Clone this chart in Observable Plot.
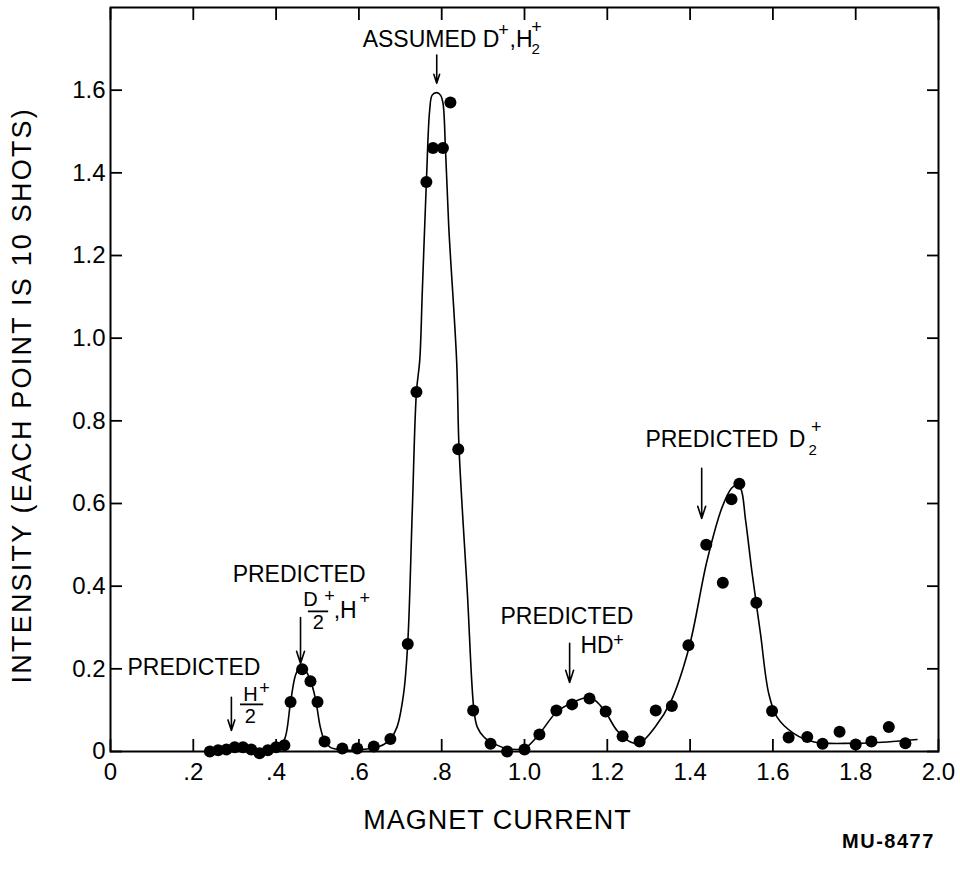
<!DOCTYPE html>
<html>
<head>
<meta charset="utf-8">
<script src="https://cdn.jsdelivr.net/npm/d3@7"></script>
<script src="https://cdn.jsdelivr.net/npm/@observablehq/plot@0.6"></script>
<style>
  html, body { margin: 0; padding: 0; background: #fff; }
  svg text { font-family: "Liberation Sans", Arial, sans-serif; }
</style>
</head>
<body>
<div id="chart"></div>
<script>
// Measured points (magnet current, intensity)
const pointX = [0.24,0.26,0.28,0.30,0.32,0.34,0.36,0.38,0.40,0.42,
  0.435,0.463,0.483,0.50,0.517,0.56,0.596,0.636,0.676,0.718,
  0.739,0.763,0.779,0.803,0.821,0.84,0.876,0.918,0.958,1.0,
  1.036,1.077,1.115,1.157,1.196,1.237,1.278,1.317,1.356,1.396,
  1.439,1.479,1.50,1.519,1.56,1.598,1.638,1.683,1.72,1.761,
  1.80,1.838,1.88,1.92];
const pointY = [0.0,0.003,0.005,0.01,0.01,0.005,-0.004,0.003,0.01,0.015,
  0.12,0.199,0.17,0.12,0.024,0.007,0.007,0.012,0.03,0.26,
  0.87,1.378,1.46,1.46,1.57,0.731,0.099,0.019,0.0,0.005,
  0.041,0.099,0.114,0.128,0.097,0.037,0.024,0.099,0.11,0.257,
  0.50,0.408,0.61,0.648,0.36,0.098,0.034,0.035,0.019,0.048,
  0.017,0.024,0.059,0.02];

// Hand-drawn smooth curve
const curveX = [0.23,0.27,0.31,0.35,0.38,0.405,0.42,0.435,0.447,0.459,
  0.47,0.482,0.495,0.507,0.517,0.531,0.56,0.60,0.636,0.66,
  0.676,0.692,0.708,0.718,0.729,0.739,0.747,0.753,0.763,0.771,
  0.777,0.788,0.797,0.803,0.809,0.817,0.836,0.842,0.862,0.878,
  0.886,0.902,0.926,0.958,1.0,1.036,1.077,1.115,1.157,1.176,
  1.196,1.224,1.256,1.278,1.316,1.353,1.397,1.441,1.477,1.50,
  1.512,1.522,1.534,1.55,1.57,1.59,1.61,1.65,1.70,1.795,
  1.876,1.948];
const curveY = [0.002,0.004,0.008,0.003,0.004,0.012,0.028,0.12,0.185,0.208,
  0.198,0.175,0.128,0.058,0.026,0.01,0.004,0.004,0.009,0.017,
  0.03,0.059,0.14,0.262,0.584,0.87,0.947,1.108,1.378,1.552,
  1.588,1.594,1.588,1.569,1.46,1.27,0.947,0.731,0.383,0.099,
  0.059,0.035,0.019,0.007,0.008,0.043,0.095,0.118,0.131,0.119,
  0.095,0.05,0.023,0.02,0.06,0.12,0.25,0.462,0.59,0.637,
  0.644,0.637,0.56,0.43,0.285,0.14,0.083,0.044,0.023,0.02,
  0.023,0.029];

const xTickValues = [0,0.2,0.4,0.6,0.8,1.0,1.2,1.4,1.6,1.8,2.0];
const xTickLabels = ["0",".2",".4",".6",".8","1.0","1.2","1.4","1.6","1.8","2.0"];
const yTickValues = [0,0.2,0.4,0.6,0.8,1.0,1.2,1.4,1.6];
const yTickLabels = ["0","0.2","0.4","0.6","0.8","1.0","1.2","1.4","1.6"];

const xTitle = "MAGNET CURRENT";
const yTitle = "INTENSITY (EACH POINT IS 10 SHOTS)";
const figureId = "MU-8477";

// Annotation pieces: text, anchor position (data units), role
const labelText = ["ASSUMED D","+",",H","+","2",
  "PREDICTED","D","+","2",",H","+",
  "PREDICTED","H","+","2",
  "PREDICTED","HD","+",
  "PREDICTED","D","+","2"];
const labelX = [0.609,0.949,0.964,1.029,1.027,
  0.295,0.483,0.529,0.502,0.539,0.614,
  0.041,0.338,0.372,0.338,
  0.942,1.135,1.227,
  1.292,1.638,1.705,1.696];
const labelY = [1.722,1.746,1.722,1.753,1.700,
  0.428,0.368,0.376,0.312,0.341,0.372,
  0.203,0.138,0.153,0.085,
  0.326,0.257,0.268,
  0.755,0.755,0.785,0.729];
const labelRole = ["main","sup","main","sup","sub",
  "main","frac","sup","frac","main","sup",
  "main","frac","sup","frac",
  "main","main","sup",
  "main","main","sup","sub"];

// Fraction bars
const barY = [0.339,0.114];
const barX1 = [0.478,0.314];
const barX2 = [0.527,0.370];

// Arrows (pointing down at predicted / assumed positions)
const arrowX = [0.788,0.459,0.292,1.109,1.428];
const arrowTop = [1.685,0.324,0.131,0.262,0.685];
const arrowTip = [1.617,0.213,0.051,0.167,0.564];

const points = pointX.map((x,i)=>({x, y: pointY[i]}));
const curve = curveX.map((x,i)=>({x, y: curveY[i]}));
const labels = labelText.map((t,i)=>({t, x: labelX[i], y: labelY[i], role: labelRole[i]}));
const bars = barY.map((y,i)=>({y, x1: barX1[i], x2: barX2[i]}));
const arrows = arrowX.map((x,i)=>({x, y1: arrowTop[i], y2: arrowTip[i]}));

const sizeFor = {main: 23, sup: 18, sub: 15, frac: 20};
const anchorFor = {main: "start", sup: "middle", sub: "middle", frac: "middle"};

const roleMarks = Object.keys(sizeFor).map(role => Plot.text(labels.filter(d => d.role === role), {
  x: "x", y: "y", text: "t", fontSize: sizeFor[role], textAnchor: anchorFor[role],
  lineAnchor: "middle", fill: "black"
}));

const blank = () => "";
const chart = Plot.plot({
  width: 960, height: 869,
  marginLeft: 110, marginRight: 22, marginTop: 7, marginBottom: 118,
  style: {fontFamily: "Liberation Sans, Arial, sans-serif", fontSize: "24px", background: "white", color: "black"},
  x: {domain: [0, 2.0]},
  y: {domain: [0, 1.8]},
  marks: [
    Plot.frame({stroke: "black", strokeWidth: 2}),
    Plot.axisX(xTickValues, {anchor: "bottom", tickSize: 12, dy: -12, tickFormat: blank, label: null, strokeWidth: 1.8}),
    Plot.axisX(xTickValues, {anchor: "top", tickSize: 12, dy: 12, tickFormat: blank, label: null, strokeWidth: 1.8}),
    Plot.axisY(yTickValues, {anchor: "left", tickSize: 12, dx: 12, tickFormat: blank, label: null, strokeWidth: 1.8}),
    Plot.axisY(yTickValues, {anchor: "right", tickSize: 12, dx: -12, tickFormat: blank, label: null, strokeWidth: 1.8}),
    Plot.axisX(xTickValues, {anchor: "bottom", tickSize: 0, tickPadding: 11, label: null, fontSize: 24,
      tickFormat: d => xTickLabels[xTickValues.indexOf(d)]}),
    Plot.axisY(yTickValues, {anchor: "left", tickSize: 0, tickPadding: 5, label: null, fontSize: 24,
      tickFormat: d => yTickLabels[yTickValues.indexOf(d)]}),
    Plot.line(curve, {x: "x", y: "y", curve: "catmull-rom", stroke: "black", strokeWidth: 1.6}),
    Plot.dot(points, {x: "x", y: "y", r: 6, fill: "black", stroke: "none"}),
    Plot.arrow(arrows, {x1: "x", x2: "x", y1: "y1", y2: "y2", stroke: "black", strokeWidth: 1.6, headLength: 12, headAngle: 36}),
    Plot.ruleY(bars, {y: "y", x1: "x1", x2: "x2", stroke: "black", strokeWidth: 1.8}),
    ...roleMarks,
    Plot.text([xTitle], {x: () => 0.935, text: d => d, frameAnchor: "bottom", dy: 77, fontSize: 27, textAnchor: "middle"}),
    Plot.text([figureId], {x: () => 1.879, text: d => d, frameAnchor: "bottom", dy: 96, fontSize: 20, fontWeight: "bold", textAnchor: "middle"}),
    Plot.text([yTitle], {y: () => 0.862, text: d => d, frameAnchor: "left", dx: -88, rotate: -90, fontSize: 27, textAnchor: "middle"})
  ]
});
// letter spacing for the lettered titles
d3.select(chart).selectAll("text").each(function() {
  const t = this.textContent;
  if (t === yTitle) d3.select(this).attr("letter-spacing", 2.2);
  if (t === xTitle) d3.select(this).attr("letter-spacing", 1);
  if (t === figureId) d3.select(this).attr("letter-spacing", 1.5);
});
document.getElementById("chart").appendChild(chart);
</script>
</body>
</html>
